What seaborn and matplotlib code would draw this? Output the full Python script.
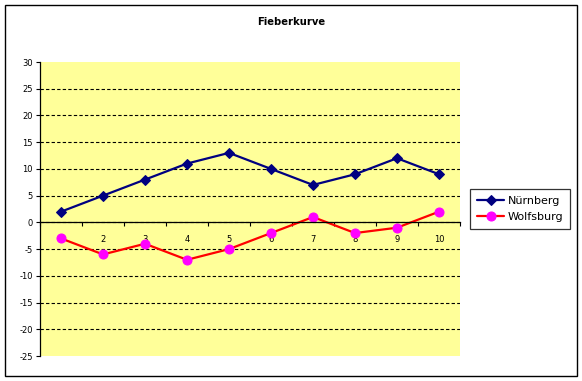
import numpy as np
import pandas as pd
import matplotlib
matplotlib.use("Agg")
import matplotlib.pyplot as plt
import seaborn as sns
from matplotlib.patches import Rectangle

# ==========================
# DATA
# ==========================

days = ["1", "2", "3", "4", "5", "6", "7", "8", "9", "10"]
nuernberg = [2, 5, 8, 11, 13, 10, 7, 9, 12, 9]
wolfsburg = [-3, -6, -4, -7, -5, -2, 1, -2, -1, 2]
y_ticks = [-25, -20, -15, -10, -5, 0, 5, 10, 15, 20, 25, 30]

# ==========================
# FIGURE
# ==========================

sns.set_style("white")
plt.rcParams["font.family"] = ["DejaVu Sans"]
plt.rcParams["text.color"] = "black"

fig = plt.figure(figsize=(5.82, 3.81), dpi=100)
ax = fig.add_axes([40/582, 25/381, 420/582, 294/381])
ax.set_facecolor("#FFFF99")

pos = np.arange(len(days))

sns.lineplot(
    x=pos, y=nuernberg, ax=ax,
    color="#000080", lw=1.6,
    marker="D", markersize=5.5,
    markerfacecolor="#000080", markeredgecolor="#000080",
    label="Nürnberg"
)

sns.lineplot(
    x=pos, y=wolfsburg, ax=ax,
    color="#FF0000", lw=1.6,
    marker="o", markersize=6.5,
    markerfacecolor="#FF00FF", markeredgecolor="#FF00FF",
    label="Wolfsburg"
)

# spines (set position first, it resets the ticks)
ax.spines["top"].set_visible(False)
ax.spines["right"].set_visible(False)
ax.spines["left"].set_color("black")
ax.spines["left"].set_linewidth(0.9)
ax.spines["bottom"].set_position(("data", 0))
ax.spines["bottom"].set_color("black")
ax.spines["bottom"].set_linewidth(0.9)

# axes
ax.set_xlim(-0.5, len(days) - 0.5)
ax.set_ylim(-25, 30)
ax.set_yticks(y_ticks)
ax.set_yticklabels([str(v) for v in y_ticks])

ax.set_xticks(pos)
ax.set_xticklabels(days)
ax.set_xticks(np.arange(len(days) + 1) - 0.5, minor=True)
ax.tick_params(axis="x", which="major", length=0, pad=9, labelsize=6,
               labelcolor="black")
ax.tick_params(axis="x", which="minor", length=3, width=0.8,
               direction="out", color="black", bottom=True)
ax.tick_params(axis="y", length=3, width=0.8, direction="out",
               color="black", pad=2, left=True, labelsize=6,
               labelcolor="black")

ax.yaxis.grid(True, color="black", linestyle=(0, (3, 2)), linewidth=0.8)
gl = ax.yaxis.get_gridlines()
gl[0].set_visible(False)
gl[-1].set_visible(False)
ax.set_axisbelow(True)

ax.set_xlabel("")
ax.set_ylabel("")

# title
fig.text(291/582, 1 - 22/381, "Fieberkurve", ha="center", va="center",
         fontsize=7.2, fontweight="bold", color="black")

# legend
leg = ax.legend(
    loc="center left",
    bbox_to_anchor=(470/582, 1 - 209/381),
    bbox_transform=fig.transFigure,
    fontsize=8, frameon=True, fancybox=False,
    handlelength=2.5, handletextpad=0.3,
    borderpad=0.6, labelspacing=0.6,
    borderaxespad=0
)
leg.get_frame().set_edgecolor("black")
leg.get_frame().set_linewidth(0.9)
for t in leg.get_texts():
    t.set_color("black")

# outer border
fig.patches.append(Rectangle((5/582, 5/381), 572/582, 371/381,
                             transform=fig.transFigure, fill=False,
                             edgecolor="black", linewidth=1.0))

fig.savefig("out.png", dpi=100)
